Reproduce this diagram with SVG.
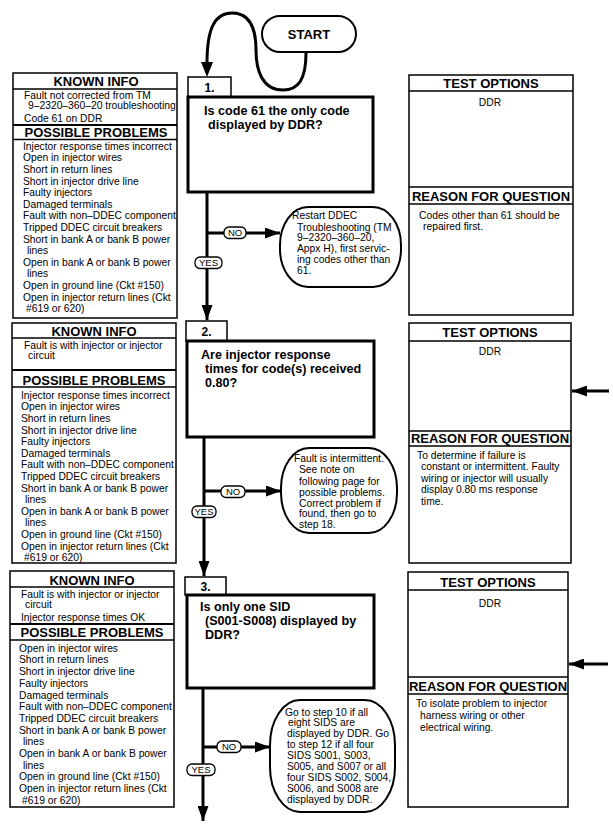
<svg xmlns="http://www.w3.org/2000/svg" width="613" height="833" viewBox="0 0 613 833">
<style>
text{font-family:"Liberation Sans",Arial,Helvetica,sans-serif;fill:#000}
.box{fill:#fff;stroke:#000;stroke-width:1.5}
.sep{stroke:#000;stroke-width:1.5}
.sep2{stroke:#000;stroke-width:2.2}
.qbox{fill:#fff;stroke:#000;stroke-width:3}
.hdr{font-size:13px;font-weight:bold;text-anchor:middle}
.t{font-size:10.3px}
.c{text-anchor:middle}
.q{font-size:12.6px;font-weight:bold}
.num{font-size:12px;font-weight:bold;text-anchor:middle}
.lbl{fill:#fff;stroke:#000;stroke-width:1.3}
.lt{font-size:9.5px;text-anchor:middle}
.flow{stroke:#000;stroke-width:3;fill:none}
.oval{fill:#fff;stroke:#000;stroke-width:2}
</style>
<defs>
<marker id="ah" markerUnits="userSpaceOnUse" markerWidth="15" markerHeight="11" refX="15" refY="5.5" orient="auto">
<path d="M0,0 L15,5.5 L0,11 z" fill="#000"/>
</marker>
</defs>

<g id="connectors">
<path class="flow" d="M306,53 C306,80 298,90 283,90 C262,90 256,70 256,50 C256,25 248,13 232,13 C215,13 207,28 207,63" stroke-width="2.5"/>
<polygon points="201,62 213,62 207,77" fill="#000"/>
<line class="flow" x1="207" y1="192" x2="207" y2="320" marker-end="url(#ah)"/>
<line class="flow" x1="207" y1="233" x2="280" y2="233" marker-end="url(#ah)"/>
<line class="flow" x1="204" y1="437" x2="204" y2="576" marker-end="url(#ah)"/>
<line class="flow" x1="204" y1="491" x2="281" y2="491" marker-end="url(#ah)"/>
<line class="flow" x1="203" y1="688" x2="203" y2="821" marker-end="url(#ah)"/>
<line class="flow" x1="203" y1="747" x2="270" y2="747" marker-end="url(#ah)"/>
<line class="flow" x1="609" y1="391" x2="572" y2="391" marker-end="url(#ah)"/>
<line class="flow" x1="608" y1="664" x2="569" y2="664" marker-end="url(#ah)"/>
</g>

<g id="start">
<rect x="262" y="16" width="94" height="36" rx="18" fill="#fff" stroke="#000" stroke-width="2"/>
<text class="hdr" x="309" y="39">START</text>
</g>

<!-- Step 1 -->
<g id="known1">
<rect class="box" x="13" y="73" width="164" height="245"/>
<line class="sep" x1="13" y1="89" x2="177" y2="89"/>
<text class="hdr" x="96" y="86">KNOWN INFO</text>
<text class="t" x="24" y="98.5">Fault not corrected from TM</text>
<text class="t" x="28" y="108.5">9–2320–360–20 troubleshooting</text>
<text class="t" x="24" y="121.5">Code 61 on DDR</text>
<line class="sep2" x1="13" y1="125" x2="177" y2="125"/>
<text class="hdr" x="96" y="137">POSSIBLE PROBLEMS</text>
<line class="sep" x1="13" y1="139.5" x2="177" y2="139.5"/>
<text class="t" x="23" y="149.7">Injector response times incorrect</text>
<text class="t" x="23" y="161.3">Open in injector wires</text>
<text class="t" x="23" y="172.9">Short in return lines</text>
<text class="t" x="23" y="184.5">Short in injector drive line</text>
<text class="t" x="23" y="196.1">Faulty injectors</text>
<text class="t" x="23" y="207.7">Damaged terminals</text>
<text class="t" x="23" y="219.3">Fault with non–DDEC component</text>
<text class="t" x="23" y="230.9">Tripped DDEC circuit breakers</text>
<text class="t" x="23" y="242.5">Short in bank A or bank B power</text>
<text class="t" x="27" y="254.1">lines</text>
<text class="t" x="23" y="265.7">Open in bank A or bank B power</text>
<text class="t" x="27" y="277.3">lines</text>
<text class="t" x="23" y="288.9">Open in ground line (Ckt #150)</text>
<text class="t" x="23" y="300.5">Open in injector return lines (Ckt</text>
<text class="t" x="26" y="312.1">#619 or 620)</text>
</g>

<g id="step1">
<rect class="box" x="188" y="77" width="43" height="20"/>
<text class="num" x="209.5" y="92">1.</text>
<rect class="qbox" x="188" y="97" width="185" height="95"/>
<text class="q" x="204" y="114.5">Is code 61 the only code</text>
<text class="q" x="208" y="129">displayed by DDR?</text>
</g>

<g id="no1">
<rect class="lbl" x="224" y="227" width="22" height="11.5" rx="5"/>
<text class="lt" x="235" y="236">NO</text>
</g>
<g id="yes1">
<rect class="lbl" x="195" y="257" width="27" height="11.5" rx="5"/>
<text class="lt" x="208.5" y="266">YES</text>
</g>

<g id="restart">
<rect class="oval" x="280" y="207" width="121" height="80" rx="28" ry="38"/>
<text class="t" x="292" y="218.7">Restart DDEC</text>
<text class="t" x="297" y="230.7">Troubleshooting (TM</text>
<text class="t" x="297" y="241.2">9–2320–360–20,</text>
<text class="t" x="297" y="252">Appx H), first servic-</text>
<text class="t" x="297" y="263">ing codes other than</text>
<text class="t" x="297" y="274">61.</text>
</g>

<g id="test1">
<rect class="box" x="409" y="75" width="164" height="240"/>
<line class="sep" x1="409" y1="91" x2="573" y2="91"/>
<text class="hdr" x="491" y="88">TEST OPTIONS</text>
<text class="t c" x="490" y="105.5">DDR</text>
<line class="sep" x1="409" y1="187" x2="573" y2="187"/>
<line class="sep" x1="409" y1="204" x2="573" y2="204"/>
<text class="hdr" x="491" y="200.5">REASON FOR QUESTION</text>
<text class="t" x="419" y="218.5">Codes other than 61 should be</text>
<text class="t" x="423" y="229.5">repaired first.</text>
</g>

<!-- Step 2 -->
<g id="known2">
<rect class="box" x="12" y="323" width="164" height="240"/>
<line class="sep" x1="12" y1="338" x2="176" y2="338"/>
<text class="hdr" x="94" y="335.5">KNOWN INFO</text>
<text class="t" x="24" y="348.5">Fault is with injector or injector</text>
<text class="t" x="28" y="358.5">circuit</text>
<line class="sep2" x1="12" y1="370" x2="176" y2="370"/>
<text class="hdr" x="94" y="384.5">POSSIBLE PROBLEMS</text>
<line class="sep" x1="12" y1="387" x2="176" y2="387"/>
<text class="t" x="21" y="398.7">Injector response times incorrect</text>
<text class="t" x="21" y="410.3">Open in injector wires</text>
<text class="t" x="21" y="421.9">Short in return lines</text>
<text class="t" x="21" y="433.5">Short in injector drive line</text>
<text class="t" x="21" y="445.1">Faulty injectors</text>
<text class="t" x="21" y="456.7">Damaged terminals</text>
<text class="t" x="21" y="468.3">Fault with non–DDEC component</text>
<text class="t" x="21" y="479.9">Tripped DDEC circuit breakers</text>
<text class="t" x="21" y="491.5">Short in bank A or bank B power</text>
<text class="t" x="25" y="503.1">lines</text>
<text class="t" x="21" y="514.7">Open in bank A or bank B power</text>
<text class="t" x="25" y="526.3">lines</text>
<text class="t" x="21" y="537.9">Open in ground line (Ckt #150)</text>
<text class="t" x="21" y="549.5">Open in injector return lines (Ckt</text>
<text class="t" x="24" y="561.1">#619 or 620)</text>
</g>

<g id="step2">
<rect class="box" x="186" y="321" width="41" height="20"/>
<text class="num" x="206.5" y="336">2.</text>
<rect class="qbox" x="187" y="341" width="187" height="96"/>
<text class="q" x="201" y="359">Are injector response</text>
<text class="q" x="205" y="373">times for code(s) received</text>
<text class="q" x="205" y="387">0.80?</text>
</g>

<g id="no2">
<rect class="lbl" x="221" y="486" width="24" height="11.5" rx="5"/>
<text class="lt" x="233" y="495">NO</text>
</g>
<g id="yes2">
<rect class="lbl" x="192" y="506" width="24" height="11.5" rx="5"/>
<text class="lt" x="204" y="515">YES</text>
</g>

<g id="intermittent">
<rect class="oval" x="281" y="448" width="116" height="85" rx="28" ry="40"/>
<text class="t" x="294" y="461.7">Fault is intermittent.</text>
<text class="t" x="299" y="472.7">See note on</text>
<text class="t" x="299" y="484.5">following page for</text>
<text class="t" x="299" y="495.7">possible problems.</text>
<text class="t" x="299" y="506.7">Correct problem if</text>
<text class="t" x="299" y="516.9">found, then go to</text>
<text class="t" x="299" y="527.7">step 18.</text>
</g>

<g id="test2">
<rect class="box" x="409" y="323" width="162" height="240"/>
<line class="sep" x1="409" y1="341" x2="571" y2="341"/>
<text class="hdr" x="490" y="337">TEST OPTIONS</text>
<text class="t c" x="490" y="354.5">DDR</text>
<line class="sep" x1="409" y1="431" x2="571" y2="431"/>
<line class="sep" x1="409" y1="446" x2="571" y2="446"/>
<text class="hdr" x="490" y="443">REASON FOR QUESTION</text>
<text class="t" x="417" y="458.5">To determine if failure is</text>
<text class="t" x="421" y="470">constant or intermittent. Faulty</text>
<text class="t" x="421" y="481.5">wiring or injector will usually</text>
<text class="t" x="421" y="493">display 0.80 ms response</text>
<text class="t" x="421" y="504.5">time.</text>
</g>

<!-- Step 3 -->
<g id="known3">
<rect class="box" x="10" y="571" width="164" height="236"/>
<line class="sep" x1="10" y1="587" x2="174" y2="587"/>
<text class="hdr" x="92" y="584.5">KNOWN INFO</text>
<text class="t" x="21" y="597.5">Fault is with injector or injector</text>
<text class="t" x="25" y="607.5">circuit</text>
<text class="t" x="21" y="620.5">Injector response times OK</text>
<line class="sep2" x1="10" y1="624" x2="174" y2="624"/>
<text class="hdr" x="92" y="637">POSSIBLE PROBLEMS</text>
<line class="sep" x1="10" y1="640" x2="174" y2="640"/>
<text class="t" x="19" y="651.7">Open in injector wires</text>
<text class="t" x="19" y="663.4">Short in return lines</text>
<text class="t" x="19" y="675.1">Short in injector drive line</text>
<text class="t" x="19" y="686.8">Faulty injectors</text>
<text class="t" x="19" y="698.5">Damaged terminals</text>
<text class="t" x="19" y="710.2">Fault with non–DDEC component</text>
<text class="t" x="19" y="721.9">Tripped DDEC circuit breakers</text>
<text class="t" x="19" y="733.6">Short in bank A or bank B power</text>
<text class="t" x="23" y="745.3">lines</text>
<text class="t" x="19" y="757">Open in bank A or bank B power</text>
<text class="t" x="23" y="768.7">lines</text>
<text class="t" x="19" y="780.4">Open in ground line (Ckt #150)</text>
<text class="t" x="19" y="792.1">Open in injector return lines (Ckt</text>
<text class="t" x="22" y="803.8">#619 or 620)</text>
</g>

<g id="step3">
<rect class="box" x="185" y="577" width="41" height="18"/>
<text class="num" x="205.5" y="591">3.</text>
<rect class="qbox" x="187" y="595" width="187" height="93"/>
<text class="q" x="200" y="611">Is only one SID</text>
<text class="q" x="205" y="625">(S001-S008) displayed by</text>
<text class="q" x="205" y="639">DDR?</text>
</g>

<g id="no3">
<rect class="lbl" x="217" y="741" width="24" height="11.5" rx="5"/>
<text class="lt" x="229" y="750">NO</text>
</g>
<g id="yes3">
<rect class="lbl" x="187" y="764" width="28" height="11.5" rx="5"/>
<text class="lt" x="201" y="773">YES</text>
</g>

<g id="goto">
<rect class="oval" x="270" y="700" width="125" height="112" rx="30" ry="45"/>
<text class="t" x="285" y="715.7">Go to step 10 if all</text>
<text class="t" x="288" y="725.7">eight SIDS are</text>
<text class="t" x="287" y="736.7">displayed by DDR.  Go</text>
<text class="t" x="287" y="747.7">to step 12 if all four</text>
<text class="t" x="287" y="758.7">SIDS S001, S003,</text>
<text class="t" x="287" y="769.7">S005, and S007 or all</text>
<text class="t" x="287" y="780.7">four SIDS S002, S004,</text>
<text class="t" x="287" y="791.7">S006, and S008 are</text>
<text class="t" x="287" y="802.7">displayed by DDR.</text>
</g>

<g id="test3">
<rect class="box" x="408" y="572" width="160" height="235"/>
<line class="sep" x1="408" y1="590" x2="568" y2="590"/>
<text class="hdr" x="488" y="586.5">TEST OPTIONS</text>
<text class="t c" x="490" y="606.5">DDR</text>
<line class="sep" x1="408" y1="677" x2="568" y2="677"/>
<line class="sep" x1="408" y1="694" x2="568" y2="694"/>
<text class="hdr" x="488" y="690.5">REASON FOR QUESTION</text>
<text class="t" x="416" y="706.5">To isolate problem to injector</text>
<text class="t" x="420" y="718.5">harness wiring or other</text>
<text class="t" x="420" y="730.5">electrical wiring.</text>
</g>
</svg>
